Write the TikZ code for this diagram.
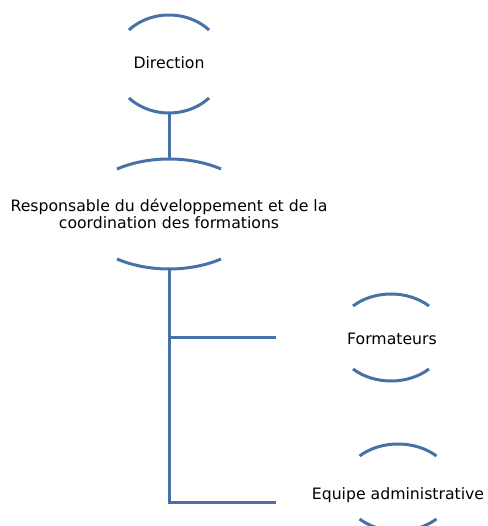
\documentclass[tikz,border=0pt]{standalone}
\usepackage{fontspec}
\setmainfont{DejaVu Sans}
\usetikzlibrary{calc}
\definecolor{orgblue}{RGB}{70,114,168}
\newcommand{\ringarcs}[7]{% center, t1, t2, t3, t4, a, b
  \draw[arcline] ($(#1)+(#2:#6pt and #7pt)$) arc[start angle=#2,end angle=#3,x radius=#6pt,y radius=#7pt];
  \draw[arcline] ($(#1)+(#4:#6pt and #7pt)$) arc[start angle=#4,end angle=#5,x radius=#6pt,y radius=#7pt];}
\begin{document}
\begin{tikzpicture}[x=1pt,y=1pt,
  arcline/.style={draw=orgblue,line width=3pt},
  link/.style={draw=orgblue,line width=3pt},
  orgtext/.style={font=\fontsize{15.7}{17}\selectfont,text=black,align=center,inner sep=0pt}]
\clip (0,0) rectangle (487,526);
% ring centres
\coordinate (dring) at (169,462);
\coordinate (rring) at (169,312);
\coordinate (fring) at (391,188.5);
\coordinate (ering) at (398,38.5);
% texts
\node[orgtext] (dir) at (169,463) {Direction};
\node[orgtext] (resp) at (169,312.5) {Responsable du développement et de la\\coordination des formations};
\node[orgtext] (form) at (392,187) {Formateurs};
\node[orgtext] (equipe) at (398,31) {Equipe administrative};
% arcs
\ringarcs{dring}{43.9}{136.1}{223.9}{316.1}{55.6}{49}
\ringarcs{rring}{54.9}{125.1}{234.9}{305.1}{90.4}{55}
\ringarcs{fring}{46.4}{133.6}{226.4}{313.6}{55.1}{43.5}
\ringarcs{ering}{46.4}{133.6}{226.4}{313.6}{55.8}{43.5}
% connector points
\coordinate (dbot) at ($(dring)+(0,-49)$);
\coordinate (rtop) at ($(rring)+(0,55)$);
\coordinate (rbot) at ($(rring)+(0,-55)$);
\coordinate (fend) at (276,188);
\coordinate (eend) at (276,23);
% connectors
\draw[link] (dbot) -- (rtop);
\draw[link] (rbot) |- (eend);
\draw[link] (rbot |- fend) -- (fend);
\end{tikzpicture}
\end{document}
